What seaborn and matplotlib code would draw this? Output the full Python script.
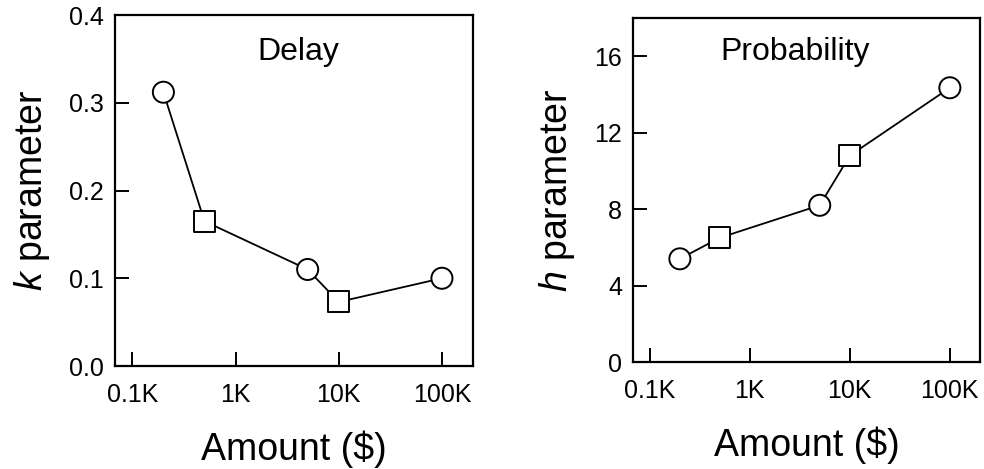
import matplotlib
matplotlib.use("Agg")
import matplotlib.pyplot as plt
import seaborn as sns
import pandas as pd
from matplotlib.ticker import FixedLocator, FixedFormatter, NullLocator

sns.set_theme(style="white")
plt.rcParams['font.family'] = ['Liberation Sans', 'DejaVu Sans']
plt.rcParams['mathtext.fontset'] = 'custom'
plt.rcParams['mathtext.it'] = 'Liberation Sans:italic'
plt.rcParams['mathtext.rm'] = 'Liberation Sans'

# Data
amounts = [200, 500, 5000, 10000, 100000]
shapes = ["circle", "square", "circle", "square", "circle"]
k_values = [0.312, 0.165, 0.110, 0.073, 0.100]
h_values = [5.4, 6.5, 8.2, 10.8, 14.35]

x_ticks = [100, 1000, 10000, 100000]
x_tick_labels = ["0.1K", "1K", "10K", "100K"]
k_ticks = [0.0, 0.1, 0.2, 0.3, 0.4]
k_tick_labels = ["0.0", "0.1", "0.2", "0.3", "0.4"]
h_ticks = [0, 4, 8, 12, 16]
h_tick_labels = ["0", "4", "8", "12", "16"]

df_k = pd.DataFrame({"amount": amounts, "value": k_values, "shape": shapes})
df_h = pd.DataFrame({"amount": amounts, "value": h_values, "shape": shapes})

fig = plt.figure(figsize=(9.84, 4.69), dpi=100)
ax1 = fig.add_axes([0.1169, 0.2196, 0.3638, 0.7484])
ax2 = fig.add_axes([0.6433, 0.2281, 0.3526, 0.7335])

marker_map = {"circle": "o", "square": "s"}

def draw(ax, df, ylim, yticks, yticklabels, ylabel, title, tx, ty):
    ax.set_xscale("log")
    sns.lineplot(data=df, x="amount", y="value", color="black", linewidth=1.3,
                 ax=ax, zorder=2, estimator=None, sort=False)
    sns.scatterplot(data=df, x="amount", y="value", style="shape", markers=marker_map,
                    s=230, facecolor="white", edgecolor="black", linewidth=1.4,
                    ax=ax, zorder=3, legend=False)
    ax.set_xlim(68, 200000)
    ax.set_ylim(*ylim)
    ax.xaxis.set_major_locator(FixedLocator(x_ticks))
    ax.xaxis.set_major_formatter(FixedFormatter(x_tick_labels))
    ax.xaxis.set_minor_locator(NullLocator())
    ax.yaxis.set_major_locator(FixedLocator(yticks))
    ax.yaxis.set_major_formatter(FixedFormatter(yticklabels))
    ax.tick_params(axis="both", which="major", direction="in", length=10, width=1.4,
                   color="black", labelsize=18, labelcolor="black",
                   bottom=True, left=True, top=False, right=False)
    ax.tick_params(axis="x", pad=12)
    ax.tick_params(axis="y", pad=8)
    for sp in ax.spines.values():
        sp.set_visible(True)
        sp.set_color("black")
        sp.set_linewidth(1.6)
    ax.set_xlabel("Amount ($)", fontsize=27, color="black", labelpad=17)
    ax.set_ylabel(ylabel, fontsize=27, color="black", labelpad=12)
    ax.text(tx, ty, title, transform=ax.transAxes, ha="center", va="center",
            fontsize=23, color="black")
    ax.grid(False)

draw(ax1, df_k, (0.0, 0.4), k_ticks, k_tick_labels, r"$\it{k}$ parameter", "Delay", 0.511, 0.895)
draw(ax2, df_h, (0, 18), h_ticks, h_tick_labels, r"$\it{h}$ parameter", "Probability", 0.467, 0.90)

fig.savefig("out.png", dpi=100)
